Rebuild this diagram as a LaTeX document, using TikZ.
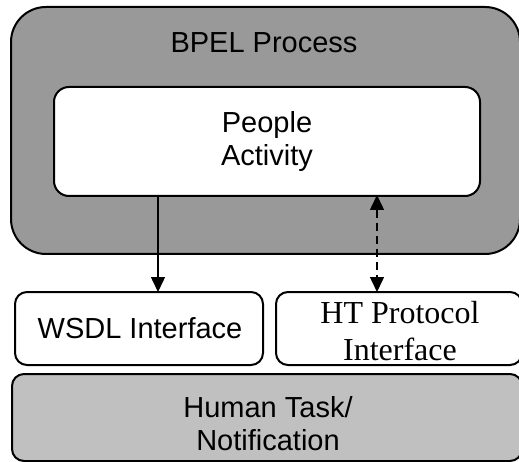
\documentclass[tikz,border=0pt]{standalone}
\usepackage{fontspec}
\setmainfont{Liberation Sans}
\newfontfamily\timesfont{Liberation Serif}
\usetikzlibrary{arrows.meta}
\definecolor{outergray}{HTML}{999999}
\definecolor{taskgray}{HTML}{C0C0C0}
\tikzset{
  boxline/.style={draw=black, line width=2pt},
  arialtext/.style={font=\fontsize{29}{33}\selectfont, align=center, inner sep=0pt},
  timestext/.style={font=\timesfont\fontsize{32}{37}\selectfont, align=center, inner sep=0pt},
  conn/.style={line width=1.5pt, -{Triangle[length=15pt,width=14pt]}},
  dconn/.style={line width=1.5pt, dash pattern=on 8pt off 5pt, {Triangle[length=15pt,width=14pt]}-{Triangle[length=15pt,width=14pt]}}
}
\begin{document}
\begin{tikzpicture}[x=1pt,y=-1pt]
\useasboundingbox (0,0) rectangle (519,462);
\fill[white] (0,0) rectangle (519,462);
% outer BPEL process
\node[boxline, fill=outergray, rounded corners=35pt, minimum width=509pt, minimum height=247pt, inner sep=0pt] (bpel) at (265.5,130.5) {};
\node[arialtext] (bpeltext) at (264,43) {BPEL Process};
% people activity
\node[boxline, fill=white, rounded corners=15pt, minimum width=426pt, minimum height=109pt, inner sep=0pt] (people) at (267,141.5) {};
\node[arialtext] (peopletext) at (267,141.5) {People\\Activity};
% interfaces
\node[boxline, fill=white, rounded corners=12pt, minimum width=248pt, minimum height=73pt, inner sep=0pt] (wsdl) at (139,328.5) {};
\node[arialtext] (wsdltext) at (140,328.5) {WSDL Interface};
\node[boxline, fill=white, rounded corners=12pt, minimum width=246pt, minimum height=73pt, inner sep=0pt] (ht) at (399,328.5) {};
\node[timestext] (httext) at (400,331.5) {HT Protocol\\Interface};
% human task
\node[boxline, fill=taskgray, rounded corners=12pt, minimum width=510pt, minimum height=87pt, inner sep=0pt] (task) at (267,417.5) {};
\node[arialtext] (tasktext) at (268,424) {Human Task/\\Notification};
% connectors
\coordinate (ax) at (158,0);
\coordinate (bx) at (377,0);
\draw[conn] (people.south -| ax) -- ([yshift=-1pt]wsdl.north -| ax);
\draw[dconn] ([yshift=2pt]people.south -| bx) -- ([yshift=-1pt]ht.north -| bx);
\end{tikzpicture}
\end{document}
